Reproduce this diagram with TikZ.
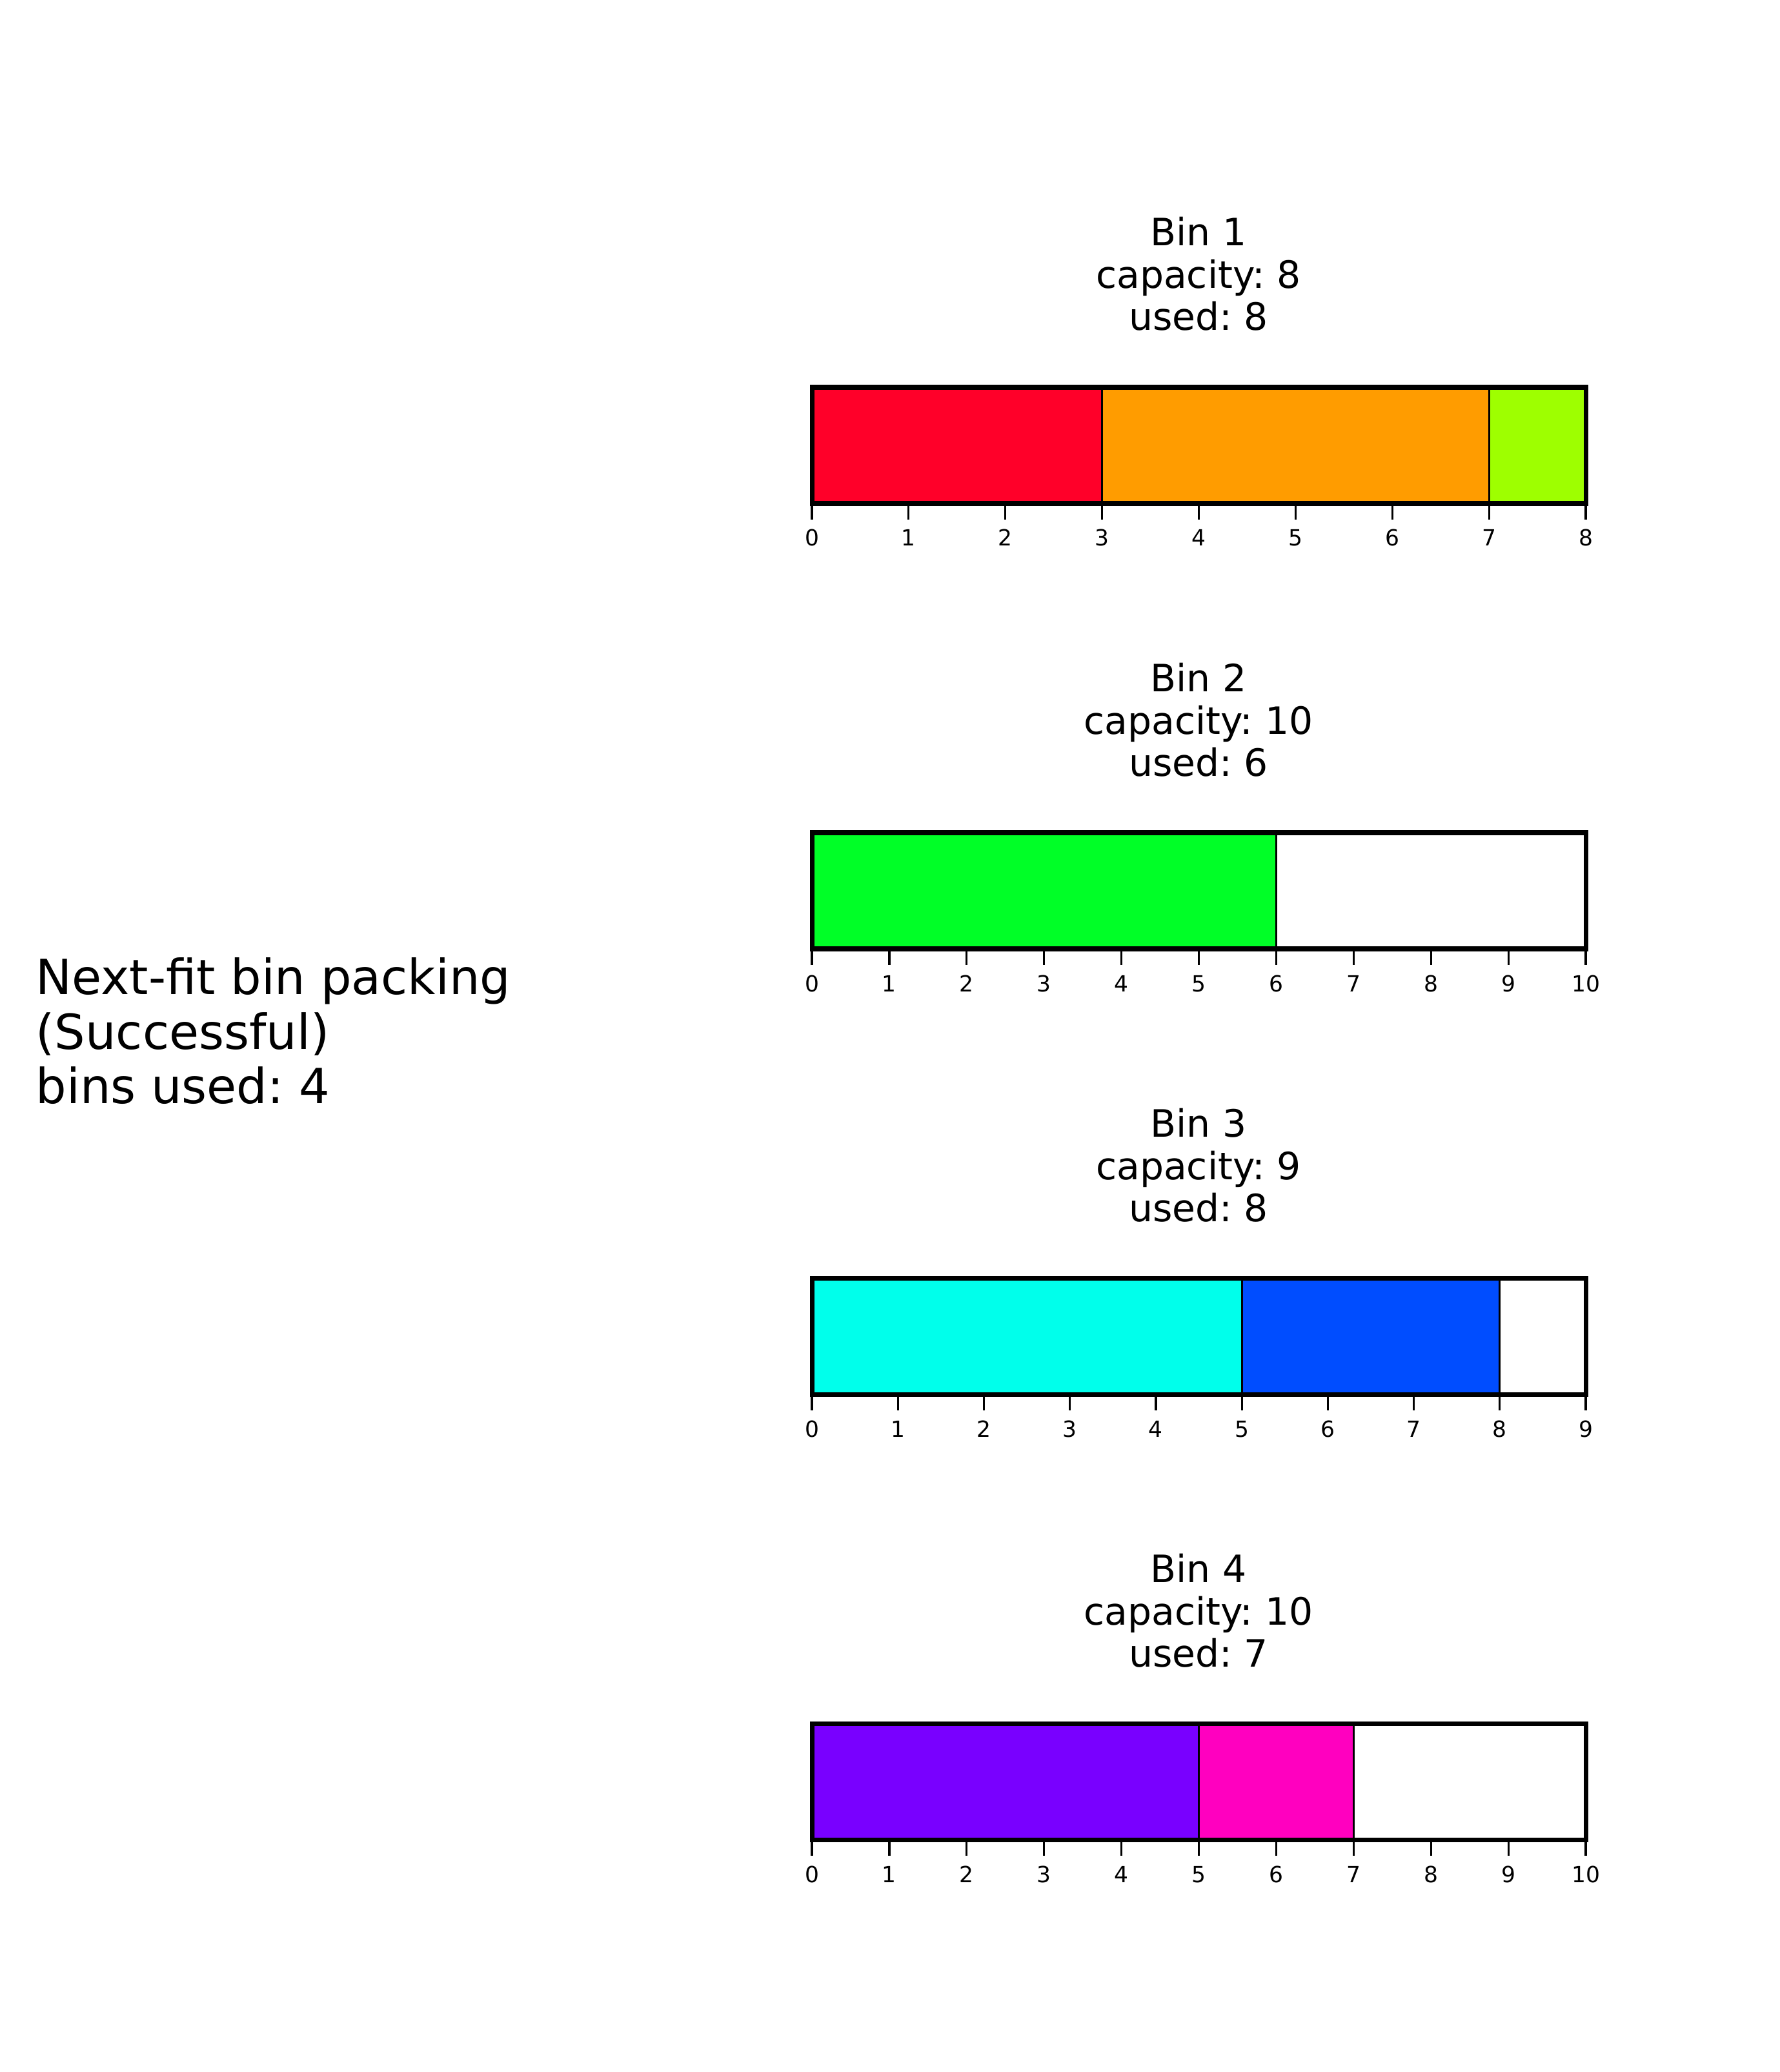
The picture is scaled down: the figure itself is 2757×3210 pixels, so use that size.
\documentclass[tikz,border=0pt]{standalone}
\usepackage{fontspec}
\setmainfont{DejaVu Sans}
\frenchspacing
\definecolor{cA}{rgb}{1,0,0.16}
\definecolor{cB}{rgb}{1,0.61004,0}
\definecolor{cC}{rgb}{0.61776,1,0}
\definecolor{cD}{rgb}{0,1,0.15361}
\definecolor{cE}{rgb}{0,1,0.92166}
\definecolor{cF}{rgb}{0,0.30279,1}
\definecolor{cG}{rgb}{0.4736,0,1}
\definecolor{cH}{rgb}{1,0,0.75}
\tikzset{
  seg/.style={draw=black,line width=0.9pt},
  frame/.style={draw=black,line width=2pt},
  tickline/.style={draw=black,line width=0.9pt},
  ticklabel/.style={anchor=base,inner sep=0pt,font=\fontsize{9.8}{11}\selectfont},
  bintitle/.style={anchor=base,inner sep=0pt,font=\fontsize{16.6}{19}\selectfont},
  maintext/.style={anchor=base west,inner sep=0pt,font=\fontsize{21.3}{25}\selectfont}
}
\newcommand\binbox[6]{% #1 name, #2 top y, #3 capacity, #4 used, #5 segments, #6 bin number
  \pgfmathsetmacro\uu{1199/#3}
  \foreach \a/\b/\col in {#5} {
    \path[seg,fill=\col] (1258+\a*\uu,#2) rectangle (1258+\b*\uu,#2+180);
  }
  \path[frame] (1258,#2) rectangle (2457,#2+180);
  \foreach \i in {0,...,#3} {
    \path[tickline] (1258+\i*\uu,#2+180) -- (1258+\i*\uu,#2+205);
    \node[ticklabel] (#1tick\i) at (1258+\i*\uu,#2+246) {\i};
  }
  \node[bintitle] (#1t1) at (1857,#2-219) {Bin #6};
  \node[bintitle] (#1t2) at (1857,#2-153) {capacity: #3};
  \node[bintitle] (#1t3) at (1857,#2-88) {used: #4};
}
\begin{document}
\begin{tikzpicture}[x=0.01cm,y=-0.01cm]
\useasboundingbox[fill=white] (0,0) rectangle (2757,3210);
\binbox{b1}{600}{8}{8}{0/3/cA,3/7/cB,7/8/cC}{1}
\binbox{b2}{1290}{10}{6}{0/6/cD}{2}
\binbox{b3}{1980}{9}{8}{0/5/cE,5/8/cF}{3}
\binbox{b4}{2670}{10}{7}{0/5/cG,5/7/cH}{4}
\node[maintext] (m1) at (55,1540) {Next-fit bin packing};
\node[maintext] (m2) at (55,1625) {(Successful)};
\node[maintext] (m3) at (55,1709) {bins used: 4};
\end{tikzpicture}
\end{document}
